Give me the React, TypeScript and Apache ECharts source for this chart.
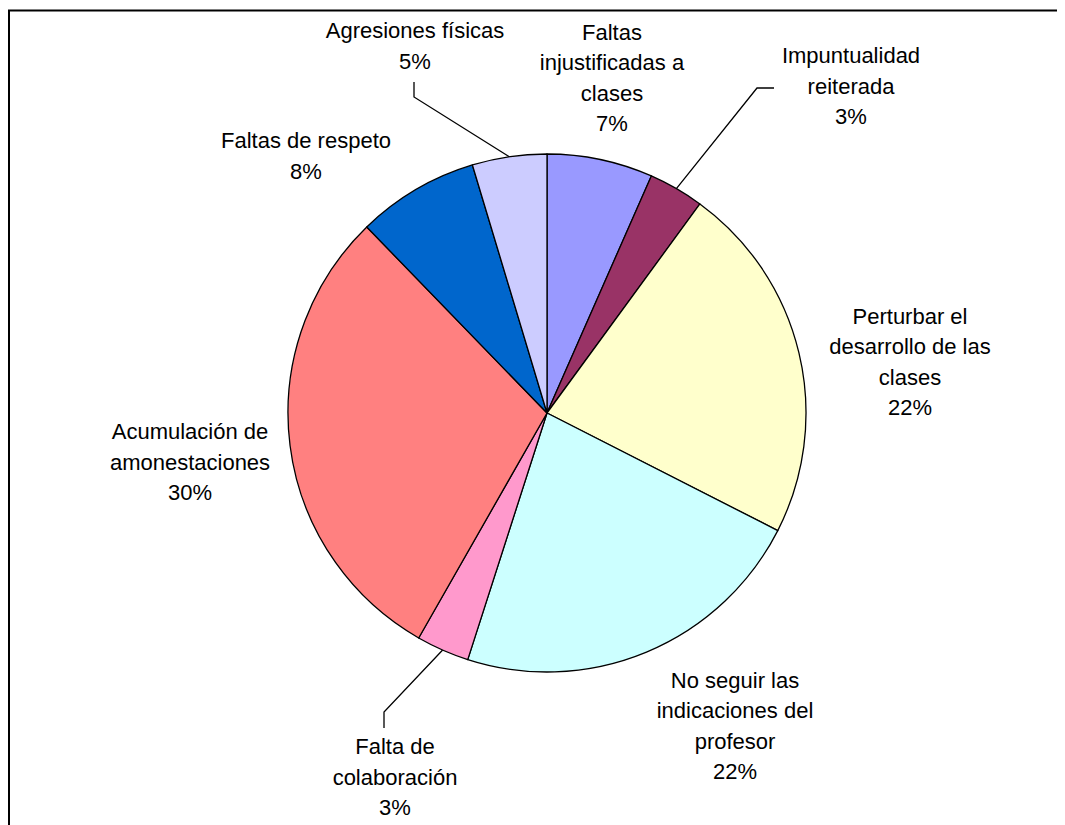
import React, { useEffect, useRef } from "react";
import * as echarts from "echarts";

// Categories (clockwise from top)
const categories = [
  "Faltas\ninjustificadas a\nclases",
  "Impuntualidad\nreiterada",
  "Perturbar el\ndesarrollo de las\nclases",
  "No seguir las\nindicaciones del\nprofesor",
  "Falta de\ncolaboración",
  "Acumulación de\namonestaciones",
  "Faltas de respeto",
  "Agresiones físicas",
];
const values = [6.6, 3.45, 22.45, 22.45, 3.3, 29.5, 7.6, 4.65];
const colors = ["#9999FF", "#993366", "#FFFFCC", "#CCFFFF", "#FF99CC", "#FF8080", "#0066CC", "#CCCCFF"];

// Label layout (chart pixel positions of label centres) and leader lines
const labelPos: number[][] = [
  [604, 70],
  [843, 78],
  [902, 354],
  [727, 718],
  [387, 769],
  [182, 454],
  [298, 148],
  [407, 38],
];
const leader: (number[][] | null)[] = [
  null,
  [[749, 80], [766, 80]],
  null,
  null,
  [[376, 704], [376, 720]],
  null,
  null,
  [[406, 89], [406, 74]],
];

export default function App() {
  const ref = useRef<HTMLDivElement>(null);
  useEffect(() => {
    document.body.style.overflow = "hidden";
    if (!ref.current) return;
    const chart = echarts.init(ref.current, null, { renderer: "svg" });
    chart.setOption({
      animation: false,
      backgroundColor: "#fff",
      graphic: [
        {
          type: "rect",
          shape: { x: 1, y: 2.5, width: 3000, height: 3000 },
          style: { fill: "none", stroke: "#000", lineWidth: 2 },
          silent: true,
        },
      ],
      series: [
        {
          type: "pie",
          center: [539, 405],
          radius: 259,
          startAngle: 90,
          clockwise: true,
          percentPrecision: 0,
          avoidLabelOverlap: false,
          itemStyle: { borderColor: "#000", borderWidth: 1.3 },
          emphasis: { disabled: true },
          label: {
            show: true,
            position: "outside",
            formatter: "{b}\n{d}%",
            fontFamily: "'Liberation Sans', Arial, sans-serif",
            fontSize: 22,
            lineHeight: 30.5,
            color: "#000",
            align: "center",
          },
          labelLine: {
            show: true,
            lineStyle: { color: "#000", width: 1.3 },
          },
          labelLayout: (params: any) => {
            const i = params.dataIndex;
            const p = labelPos[i];
            const out: any = { x: p[0], y: p[1], align: "center", verticalAlign: "middle" };
            const l = leader[i];
            if (l && params.labelLinePoints) {
              out.labelLinePoints = [params.labelLinePoints[0], l[0], l[1]];
            }
            return out;
          },
          data: categories.map((name, i) => ({
            name,
            value: values[i],
            itemStyle: { color: colors[i] },
            labelLine: { show: leader[i] != null },
          })),
        },
      ],
    });
    return () => chart.dispose();
  }, []);
  return <div ref={ref} style={{ width: 1057, height: 817 }} />;
}
